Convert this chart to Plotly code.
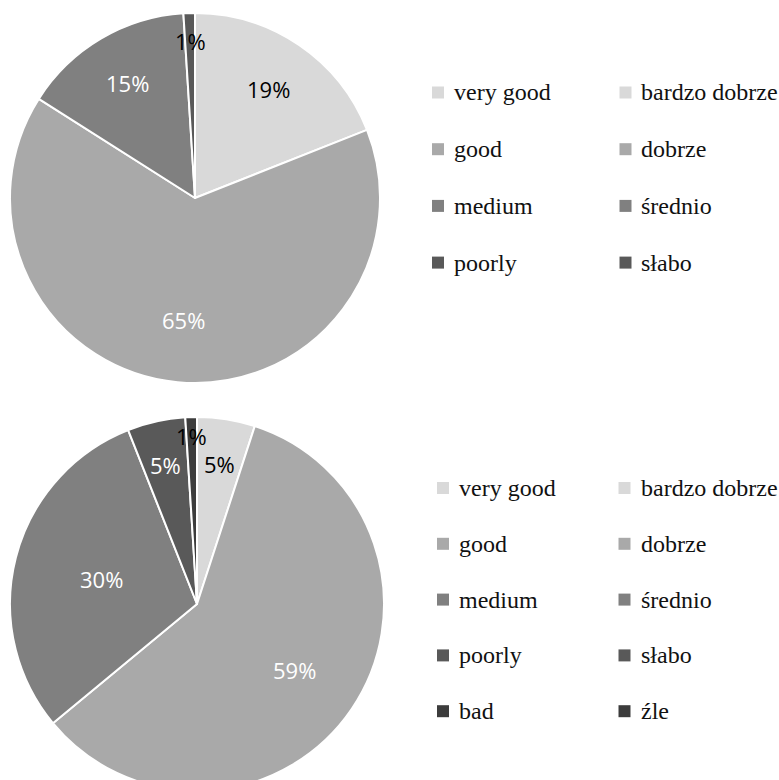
import math
import plotly.graph_objects as go

# Survey answers (percent) for the two questions
labels_en = ["very good", "good", "medium", "poorly", "bad"]
labels_pl = ["bardzo dobrze", "dobrze", "średnio", "słabo", "źle"]
top_values = [19, 65, 15, 1]
bottom_values = [5, 59, 30, 5, 1]

# Styling
slice_colors = ["#d9d9d9", "#a9a9a9", "#808080", "#595959", "#3c3c3c"]
top_text_colors = ["black", "white", "white", "black"]
bottom_text_colors = ["black", "white", "white", "white", "black"]
top_label_radius = [0.71, 0.66, 0.72, 0.85]
bottom_label_radius = [0.76, 0.63, 0.53, 0.76, 0.90]
SERIF = "Liberation Serif, Times New Roman, serif"

W, H = 779, 792

fig = go.Figure()


def px_x(x):
    return x / W


def px_y(y):
    return 1 - y / H


def add_pie(values, cx, cy, r, text_colors, label_radius):
    n = len(values)
    fig.add_trace(go.Pie(
        labels=labels_en[:n],
        values=values,
        sort=False,
        direction="clockwise",
        rotation=0,
        textinfo="none",
        hoverinfo="label+percent",
        showlegend=False,
        marker=dict(colors=slice_colors[:n], line=dict(color="white", width=2)),
        domain=dict(x=[px_x(cx - r), px_x(cx + r)], y=[px_y(cy + r), px_y(cy - r)]),
    ))
    total = sum(values)
    start = 0.0
    for v, col, f in zip(values, text_colors, label_radius):
        mid = (start + v / 2) / total * 2 * math.pi
        start += v
        lx = cx + f * r * math.sin(mid)
        ly = cy - f * r * math.cos(mid)
        fig.add_annotation(
            x=px_x(lx), y=px_y(ly), xref="paper", yref="paper",
            xanchor="center", yanchor="middle",
            text=f"{round(v / total * 100)}%", showarrow=False,
            font=dict(family="Open Sans", size=22, color=col),
        )


def add_legend(n, sq1_x, text1_x, sq2_x, text2_x, y0, step):
    for i in range(n):
        y = y0 + i * step
        for sx, tx, lab in ((sq1_x, text1_x, labels_en[i]), (sq2_x, text2_x, labels_pl[i])):
            fig.add_shape(
                type="rect", xref="paper", yref="paper",
                x0=px_x(sx - 6), x1=px_x(sx + 6), y0=px_y(y + 6), y1=px_y(y - 6),
                fillcolor=slice_colors[i], line=dict(width=0),
            )
            fig.add_annotation(
                x=px_x(tx), y=px_y(y), xref="paper", yref="paper",
                text=lab, showarrow=False, xanchor="left", yanchor="middle",
                font=dict(family=SERIF, size=24, color="#111111"),
            )


add_pie(top_values, 195, 198, 185, top_text_colors, top_label_radius)
add_pie(bottom_values, 197, 604, 187, bottom_text_colors, bottom_label_radius)

add_legend(len(top_values), 438, 452, 625.5, 639, 92.5, 56.7)
add_legend(len(bottom_values), 443, 457, 624.5, 639, 488, 55.8)

fig.update_layout(
    width=W, height=H,
    margin=dict(l=0, r=0, t=0, b=0),
    paper_bgcolor="white",
    plot_bgcolor="white",
)

fig.write_html(
    "out.html",
    config={"displayModeBar": False},
    post_script="document.body.style.margin='0';document.body.style.overflow='hidden';"
                "document.documentElement.style.overflow='hidden';",
)
